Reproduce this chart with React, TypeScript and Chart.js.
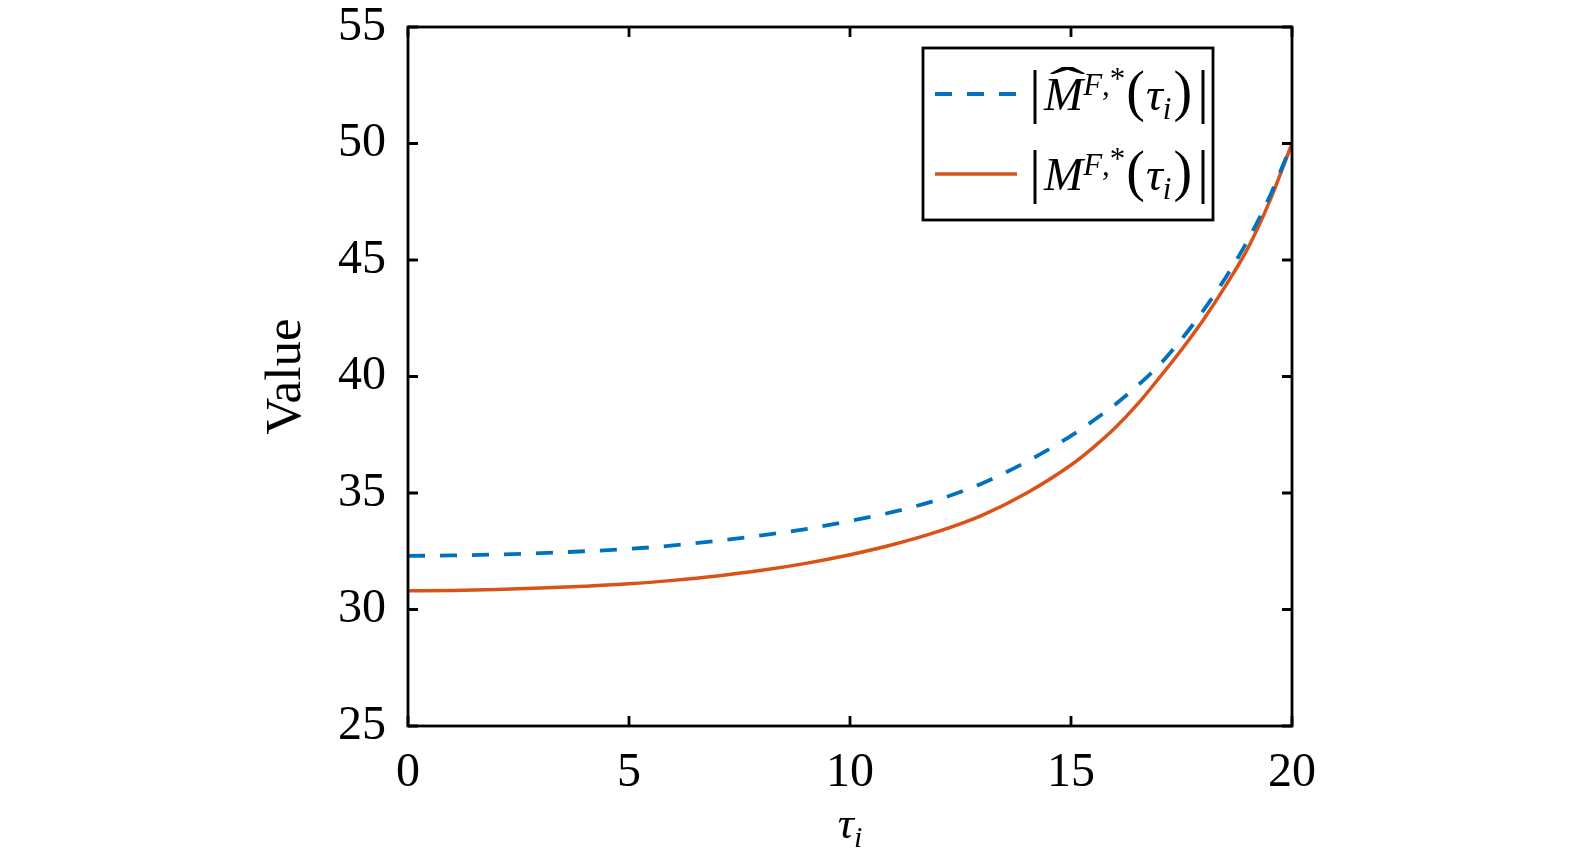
import React, { useEffect, useRef } from "react";
import { Chart, registerables } from "chart.js";

Chart.register(...registerables);

// ---- data ----
const tau = [0, 1, 2, 3, 4, 5, 6, 7, 8, 9, 10, 11, 12, 13, 14, 15, 15.5, 16, 16.5, 17, 17.5, 18, 18.5, 19, 19.5, 20];
const estimated = [32.3, 32.32, 32.36, 32.42, 32.5, 32.6, 32.75, 32.95, 33.18, 33.45, 33.8, 34.2, 34.72, 35.42, 36.35, 37.45, 38.1, 38.8, 39.6, 40.5, 41.6, 42.85, 44.25, 45.85, 47.75, 50.0];
const exact = [30.8, 30.82, 30.86, 30.92, 31.0, 31.1, 31.25, 31.44, 31.68, 31.98, 32.35, 32.8, 33.35, 34.05, 35.0, 36.2, 36.95, 37.8, 38.8, 39.95, 41.15, 42.45, 43.9, 45.5, 47.55, 50.0];
const xTicks = [0, 5, 10, 15, 20];
const yTicks = [25, 30, 35, 40, 45, 50, 55];
const yTitle = "Value";

const BLUE = "#0072BD";
const RED = "#D95319";
const SERIF = "'Liberation Serif', 'Times New Roman', serif";
const AXIS_W = 2.8;

function drawMathLabel(ctx: CanvasRenderingContext2D, x0: number, base: number, hat: boolean) {
  let x = x0;
  const put = (t: string, font: string, dy = 0, adv = 0) => {
    ctx.font = font;
    ctx.fillText(t, x, base + dy);
    const w = ctx.measureText(t).width;
    x += w + adv;
    return w;
  };
  ctx.fillStyle = "#000";
  ctx.textAlign = "left";
  ctx.textBaseline = "alphabetic";
  put("|", `60px ${SERIF}`, 1, 3);
  const mx = x;
  const mw = put("M", `italic 47px ${SERIF}`, 0, 0);
  if (hat) {
    ctx.save();
    ctx.font = `47px ${SERIF}`;
    const hw = ctx.measureText("\u02C6").width;
    const sx = (mw * 0.92) / hw;
    ctx.translate(mx + mw * 0.14, base - 10);
    ctx.scale(sx, 1.0);
    ctx.fillText("\u02C6", 0, 0);
    ctx.restore();
  }
  put("F", `italic 31px ${SERIF}`, -15, 0);
  put(",", `31px ${SERIF}`, -15, 0);
  put("*", `31px ${SERIF}`, -21, 1);
  put("(", `56px ${SERIF}`, 0, 1);
  put("\u03C4", `italic 47px ${SERIF}`, 0, 0);
  put("i", `italic 31px ${SERIF}`, 9, 2);
  put(")", `56px ${SERIF}`, 0, 5);
  put("|", `60px ${SERIF}`, 1, 0);
}

const framePlugin = {
  id: "frame",
  afterDatasetsDraw(chart: any) {
    const { ctx, chartArea: a, scales } = chart;
    const xs = scales.x;
    const ys = scales.y;
    ctx.save();
    ctx.strokeStyle = "#000";
    ctx.lineWidth = AXIS_W;
    ctx.strokeRect(a.left, a.top, a.right - a.left, a.bottom - a.top);
    const L = 10;
    ctx.beginPath();
    for (const v of xTicks) {
      const px = xs.getPixelForValue(v);
      ctx.moveTo(px, a.bottom);
      ctx.lineTo(px, a.bottom - L);
      ctx.moveTo(px, a.top);
      ctx.lineTo(px, a.top + L);
    }
    for (const v of yTicks) {
      const py = ys.getPixelForValue(v);
      ctx.moveTo(a.left, py);
      ctx.lineTo(a.left + L, py);
      ctx.moveTo(a.right, py);
      ctx.lineTo(a.right - L, py);
    }
    ctx.stroke();

    // legend
    const bx = a.right - 369;
    const by = a.top + 21;
    const bw = 290;
    const bh = 172;
    ctx.fillStyle = "#fff";
    ctx.fillRect(bx, by, bw, bh);
    ctx.lineWidth = AXIS_W;
    ctx.strokeStyle = "#000";
    ctx.strokeRect(bx, by, bw, bh);

    const rows = [
      { color: BLUE, dash: [17, 15], width: 3.8, hat: true, dy: 46 },
      { color: RED, dash: [], width: 3.5, hat: false, dy: 126 },
    ];
    for (const r of rows) {
      ctx.beginPath();
      ctx.setLineDash(r.dash);
      ctx.strokeStyle = r.color;
      ctx.lineWidth = r.width;
      ctx.moveTo(bx + 12, by + r.dy);
      ctx.lineTo(bx + 94, by + r.dy);
      ctx.stroke();
      ctx.setLineDash([]);
      drawMathLabel(ctx, bx + 106, by + r.dy + 16, r.hat);
    }

    // axis titles
    ctx.fillStyle = "#000";
    ctx.textBaseline = "alphabetic";
    ctx.font = `italic 45px ${SERIF}`;
    const tw = ctx.measureText("\u03C4").width;
    ctx.font = `italic 30px ${SERIF}`;
    const iw = ctx.measureText("i").width;
    const cx = (a.left + a.right) / 2;
    const tx = cx - (tw + iw) / 2;
    ctx.textAlign = "left";
    ctx.font = `italic 45px ${SERIF}`;
    ctx.fillText("\u03C4", tx, a.bottom + 112);
    ctx.font = `italic 30px ${SERIF}`;
    ctx.fillText("i", tx + tw, a.bottom + 121);

    ctx.save();
    ctx.translate(a.left - 108, (a.top + a.bottom) / 2);
    ctx.rotate(-Math.PI / 2);
    ctx.textAlign = "center";
    ctx.font = `51px ${SERIF}`;
    ctx.fillText(yTitle, 0, 0);
    ctx.restore();

    ctx.restore();
  },
};

export default function App() {
  const ref = useRef<HTMLCanvasElement | null>(null);
  useEffect(() => {
    if (!ref.current) return;
    const chart = new Chart(ref.current, {
      type: "line",
      data: {
        datasets: [
          {
            label: "est",
            data: tau.map((t, i) => ({ x: t, y: estimated[i] })),
            borderColor: BLUE,
            borderWidth: 3.8,
            borderDash: [17, 15],
            pointRadius: 0,
            cubicInterpolationMode: "monotone",
            fill: false,
          },
          {
            label: "exact",
            data: tau.map((t, i) => ({ x: t, y: exact[i] })),
            borderColor: RED,
            borderWidth: 3.5,
            pointRadius: 0,
            cubicInterpolationMode: "monotone",
            fill: false,
          },
        ],
      },
      options: {
        animation: false,
        responsive: false,
        devicePixelRatio: 1,
        layout: { padding: { top: 27, right: 283, left: 0, bottom: 0 } },
        plugins: { legend: { display: false }, tooltip: { enabled: false } },
        scales: {
          x: {
            type: "linear",
            min: 0,
            max: 20,
            afterBuildTicks: (s: any) => {
              s.ticks = xTicks.map((v) => ({ value: v }));
            },
            afterFit: (s: any) => {
              s.height = 141;
              s.paddingLeft = 0;
              s.paddingRight = 0;
            },
            grid: { display: false, drawTicks: false },
            border: { display: false },
            ticks: {
              color: "#000",
              padding: 19,
              maxRotation: 0,
              font: { family: SERIF, size: 48 },
            },
          },
          y: {
            type: "linear",
            min: 25,
            max: 55,
            afterBuildTicks: (s: any) => {
              s.ticks = yTicks.map((v) => ({ value: v }));
            },
            afterFit: (s: any) => {
              s.width = 408;
              s.paddingTop = 0;
              s.paddingBottom = 0;
            },
            grid: { display: false, drawTicks: false },
            border: { display: false },
            ticks: {
              color: "#000",
              padding: 22,
              font: { family: SERIF, size: 48 },
            },
          },
        },
      },
      plugins: [framePlugin],
    } as any);
    return () => chart.destroy();
  }, []);
  return (
    <div style={{ position: "absolute", left: 0, top: 0, width: 1575, height: 867, background: "#fff" }}>
      <canvas ref={ref} width={1575} height={867} style={{ display: "block" }} />
    </div>
  );
}
